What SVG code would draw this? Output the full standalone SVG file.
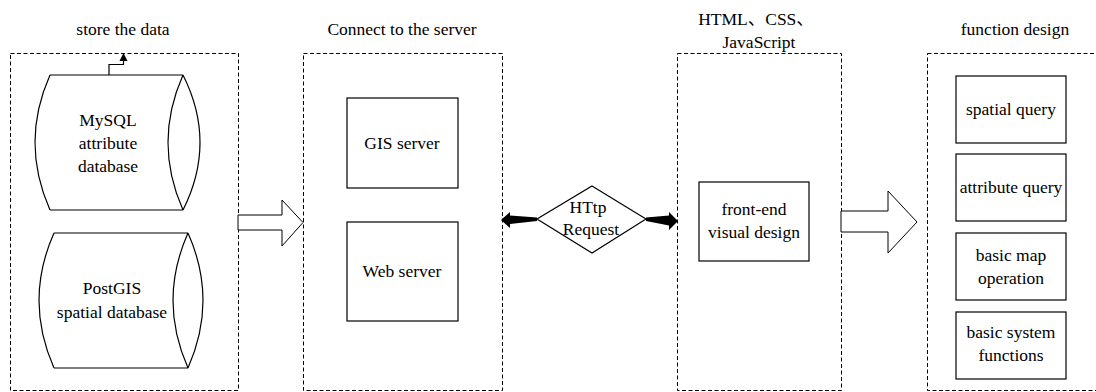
<svg xmlns="http://www.w3.org/2000/svg" width="1096" height="392" viewBox="0 0 1096 392">
<defs>
<style>
text{font-family:"Liberation Serif","Times New Roman",serif;font-size:17.5px;fill:#000;text-anchor:middle}
text.cjk{font-family:"Liberation Serif","Noto Sans CJK SC",serif}
.grp{fill:none;stroke:#000;stroke-width:1;stroke-dasharray:4 2.5}
.box{fill:#fff;stroke:#000;stroke-width:1.2}
.ln{fill:none;stroke:#000;stroke-width:1.2}
.hollow{fill:#fff;stroke:#000;stroke-width:1}
.solid{fill:#000;stroke:none}
</style>
</defs>
<rect width="1096" height="392" fill="#fff"/>

<g id="group-store">
<rect class="grp" x="10.5" y="53.5" width="228" height="337"/>
<text x="123" y="35">store the data</text>
</g>
<g id="group-server">
<rect class="grp" x="303.5" y="53.5" width="199" height="337"/>
<text x="402" y="35">Connect to the server</text>
</g>
<g id="group-frontend">
<rect class="grp" x="677.5" y="53.5" width="164" height="337"/>
<text class="cjk" x="756" y="25">HTML、CSS、</text>
<text x="759" y="48">JavaScript</text>
</g>
<g id="group-function">
<rect class="grp" x="927.5" y="53.5" width="200" height="337"/>
<text x="1015" y="35">function design</text>
</g>

<g id="mysql">
<path class="ln" d="M50,75 L183,75 M50,210 L183,210 M50,75 Q20,142.5 50,210 M183,75 Q217,142.5 183,210 M183,75 Q153,142.5 183,210"/>
<text x="108" y="126">MySQL</text>
<text x="108" y="149">attribute</text>
<text x="108" y="172">database</text>
</g>
<g id="postgis">
<path class="ln" d="M54,233 L188,233 M54,368 L188,368 M54,233 Q24,300.5 54,368 M188,233 Q218,300.5 188,368 M188,233 Q158,300.5 188,368"/>
<text x="112" y="294">PostGIS</text>
<text x="112" y="318">spatial database</text>
</g>

<g id="gis-server">
<rect class="box" x="347" y="98" width="111" height="90"/>
<text x="402" y="149">GIS server</text>
</g>
<g id="web-server">
<rect class="box" x="347" y="222" width="111" height="99"/>
<text x="402" y="277">Web server</text>
</g>

<g id="http-request">
<polygon class="ln" points="592,186 646,219 592,253 537,219" fill="#fff"/>
<text x="588" y="213">HTtp</text>
<text x="591" y="235">Request</text>
</g>

<g id="frontend-design">
<rect class="box" x="699" y="182" width="110" height="79"/>
<text x="754" y="215">front-end</text>
<text x="754" y="238">visual design</text>
</g>

<g id="spatial-query">
<rect class="box" x="956" y="76" width="110" height="67"/>
<text x="1011" y="115">spatial query</text>
</g>
<g id="attribute-query">
<rect class="box" x="956" y="154" width="110" height="67"/>
<text x="1011" y="193">attribute query</text>
</g>
<g id="map-operation">
<rect class="box" x="956" y="233" width="110" height="67"/>
<text x="1011" y="261">basic map</text>
<text x="1011" y="284">operation</text>
</g>
<g id="system-functions">
<rect class="box" x="956" y="312" width="110" height="67"/>
<text x="1011" y="338">basic system</text>
<text x="1011" y="361">functions</text>
</g>

<g id="connectors">
<path class="ln" d="M109,75 L109,64.5 L123.5,64.5 L123.5,60"/>
<polygon class="solid" points="123.5,53 119.5,61 127.5,61"/>
<polygon class="hollow" points="238,215 282,215 282,200 303,222.5 282,246 282,230 238,230"/>
<polygon class="hollow" points="841,211 888,211 888,191 917,222 888,253 888,232 841,232"/>
<polygon class="solid" points="537,217.5 510,215.5 510,212 501,220 510,228 510,224 537,221"/>
<polygon class="solid" points="646,217.5 669,215.5 669,212 678,221 669,230 669,225.5 646,221"/>
</g>
</svg>
